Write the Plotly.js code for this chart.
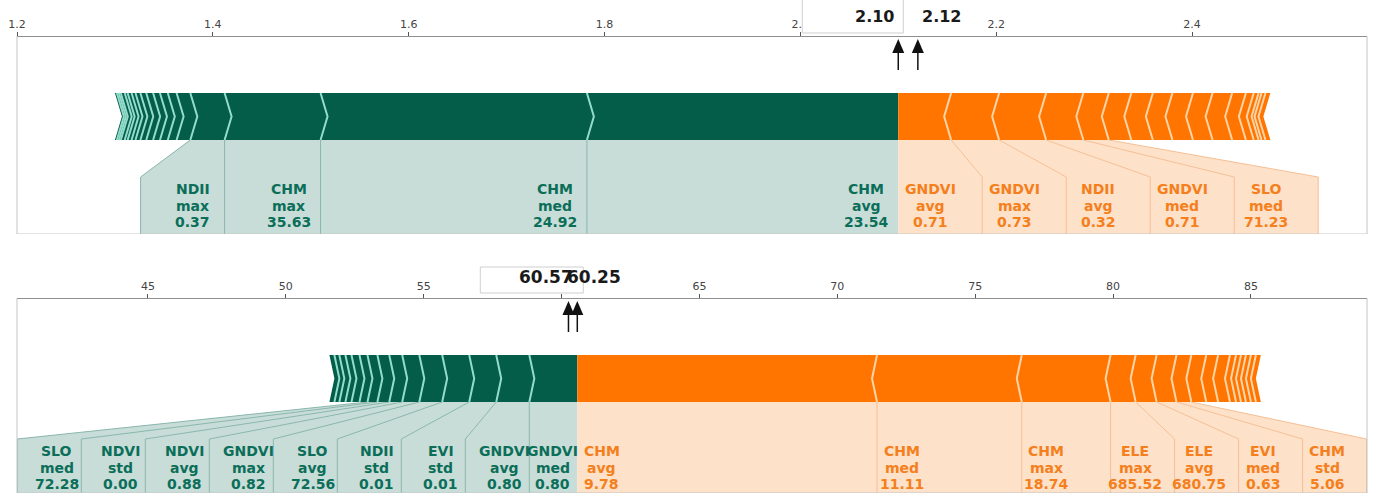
<!DOCTYPE html>
<html>
<head>
<meta charset="utf-8">
<script src="https://cdn.plot.ly/plotly-3.0.1.min.js"></script>
<style>
  html, body { margin: 0; padding: 0; background: #ffffff; }
  #chart { width: 1373px; height: 495px; }
</style>
</head>
<body>
<div id="chart"></div>
<script>
// ---------- upper panel ----------
const upperOutput = 2.10;
const upperReference = 2.12;
const upperTicks = [1.2, 1.4, 1.6, 1.8, 2.0, 2.2, 2.4];
const upperTickLabels = ['1.2', '1.4', '1.6', '1.8', '2.0', '2.2', '2.4'];
// features pushing the prediction up (green, left of the output)
const upperRaiseNames = ['CHM', 'CHM', 'CHM', 'NDII'];
const upperRaiseStats = ['avg', 'med', 'max', 'max'];
const upperRaiseValues = ['23.54', '24.92', '35.63', '0.37'];
const upperRaiseEffects = [0.318, 0.272, 0.098, 0.035, 0.014, 0.009, 0.008, 0.007, 0.007,
                           0.006, 0.005, 0.004, 0.004, 0.003, 0.004, 0.002, 0.002, 0.002];
// features pulling the prediction down (orange, right of the output)
const upperLowerNames = ['GNDVI', 'GNDVI', 'NDII', 'GNDVI', 'SLO'];
const upperLowerStats = ['avg', 'max', 'avg', 'med', 'med'];
const upperLowerValues = ['0.71', '0.73', '0.32', '0.71', '71.23'];
const upperLowerEffects = [0.054, 0.049, 0.048, 0.038, 0.026, 0.023, 0.022, 0.020, 0.021,
                           0.020, 0.020, 0.014, 0.008, 0.005, 0.003, 0.004, 0.005];

// ---------- lower panel ----------
const lowerOutput = 60.57;
const lowerReference = 60.25;
const lowerTicks = [45, 50, 55, 60, 65, 70, 75, 80, 85];
// the 60 label sits under the value box, so it is left blank
const lowerTickLabels = ['45', '50', '55', '', '65', '70', '75', '80', '85'];
const lowerRaiseNames = ['GNDVI', 'GNDVI', 'EVI', 'NDII', 'SLO', 'GNDVI', 'NDVI', 'NDVI', 'SLO'];
const lowerRaiseStats = ['med', 'avg', 'std', 'std', 'avg', 'max', 'avg', 'std', 'med'];
const lowerRaiseValues = ['0.80', '0.80', '0.01', '0.01', '72.56', '0.82', '0.88', '0.00', '72.28'];
const lowerRaiseEffects = [1.74, 1.20, 0.98, 0.98, 0.83, 0.62, 0.47, 0.43, 0.36,
                           0.29, 0.29, 0.22, 0.22, 0.18, 0.18];
const lowerLowerNames = ['CHM', 'CHM', 'CHM', 'ELE', 'ELE', 'EVI', 'CHM'];
const lowerLowerStats = ['avg', 'med', 'max', 'max', 'avg', 'med', 'std'];
const lowerLowerValues = ['9.78', '11.11', '18.74', '685.52', '680.75', '0.63', '5.06'];
const lowerLowerEffects = [10.87, 5.25, 3.22, 0.91, 0.76, 0.72, 0.54, 0.54, 0.43,
                           0.43, 0.22, 0.18, 0.18, 0.18, 0.18, 0.18];

// ---------- styling ----------
const FIG_W = 1373, FIG_H = 495;
const PLOT_LEFT = 17, PLOT_RIGHT = 1367;
const FONT = 'DejaVu Sans, Verdana, sans-serif';

const GREEN = { bar: '#035d49', sep: '#93dccb', fill: '#c9ddd8', div: '#88b6ab', text: '#0b6e59' };
const ORANGE = { bar: '#ff7500', sep: '#ffd4a6', fill: '#fde1c8', div: '#f6bf95', text: '#f47f1c' };

// vertical layout inside a panel, in pixels below the axis line
const BAR_TOP = 57, BAR_BOTTOM = 104, BAR_MID = (BAR_TOP + BAR_BOTTOM) / 2;
const LABEL_TOP = 141;
const TEXT_LINES = [153, 169.5, 185.5];
const ARROW_TIP = 3, ARROW_BASE = 17, ARROW_END = 34;

const panels = [
  {
    xa: 'x', ya: 'y', areaTop: 0, axisPx: 36, areaBottom: 234,
    range: [1.2, 2.5787], ticks: upperTicks, tickLabels: upperTickLabels,
    tipPx: 7, labelW: 84, textOffset: 32, valueSize: 16,
    output: upperOutput, reference: upperReference,
    raise: { names: upperRaiseNames, stats: upperRaiseStats, values: upperRaiseValues, effects: upperRaiseEffects },
    lower: { names: upperLowerNames, stats: upperLowerStats, values: upperLowerValues, effects: upperLowerEffects },
    box: { left: 96, right: 5, top: -40, bottom: -3 }, valueY: -20, refShift: 2
  },
  {
    xa: 'x2', ya: 'y2', areaTop: 250, axisPx: 298, areaBottom: 493,
    range: [40.25, 89.21], ticks: lowerTicks, tickLabels: lowerTickLabels,
    tipPx: 5, labelW: 64, textOffset: 24.5, valueSize: 17,
    output: lowerOutput, reference: lowerReference,
    raise: { names: lowerRaiseNames, stats: lowerRaiseStats, values: lowerRaiseValues, effects: lowerRaiseEffects },
    lower: { names: lowerLowerNames, stats: lowerLowerStats, values: lowerLowerValues, effects: lowerLowerEffects },
    box: { left: 97, right: 6, top: -31, bottom: -5 }, valueY: -21, refShift: -3
  }
];

const shapes = [];
const annotations = [];
const traces = [];
const layout = {
  width: FIG_W, height: FIG_H,
  margin: { l: 0, r: 0, t: 0, b: 0 },
  paper_bgcolor: '#ffffff', plot_bgcolor: '#ffffff',
  showlegend: false,
  shapes: shapes, annotations: annotations
};

function poly(pts) {
  return 'M' + pts.map(p => p[0] + ',' + p[1]).join('L') + 'Z';
}
function polyline(pts) {
  return 'M' + pts.map(p => p[0] + ',' + p[1]).join('L');
}

panels.forEach((p, k) => {
  const suffix = k === 0 ? '' : '2';
  const bottom = p.areaBottom - p.axisPx;
  const ppu = (PLOT_RIGHT - PLOT_LEFT) / (p.range[1] - p.range[0]);
  const tip = p.tipPx / ppu;

  layout['xaxis' + suffix] = {
    domain: [PLOT_LEFT / FIG_W, PLOT_RIGHT / FIG_W],
    range: p.range, side: 'top', anchor: 'free',
    position: 1 - p.axisPx / FIG_H,
    tickmode: 'array', tickvals: p.ticks, ticktext: p.tickLabels,
    ticks: 'outside', ticklen: 4, tickwidth: 1, tickcolor: '#555555',
    showline: true, linecolor: '#8f8f8f', linewidth: 1,
    showgrid: false, zeroline: false, fixedrange: true,
    tickfont: { family: FONT, size: 11, color: '#444444' }
  };
  layout['yaxis' + suffix] = {
    domain: [1 - p.areaBottom / FIG_H, 1 - p.areaTop / FIG_H],
    range: [bottom, -(p.axisPx - p.areaTop)],
    visible: false, fixedrange: true, anchor: p.xa
  };
  traces.push({
    x: [p.output], y: [BAR_MID], xaxis: p.xa, yaxis: p.ya,
    mode: 'markers', marker: { opacity: 0 }, hoverinfo: 'skip'
  });

  const base = { xref: p.xa, yref: p.ya, layer: 'above' };

  // one side of the force bar: d = -1 grows left of the output, +1 grows right
  function side(group, d, col) {
    const segs = [];
    let cum = 0;
    group.effects.forEach(e => {
      segs.push({ near: p.output + d * cum, far: p.output + d * (cum + e) });
      cum += e;
    });

    // label cells below the bar, pushed outward so every label gets room
    const cells = [];
    let near = segs[0].near;
    const minW = p.labelW / ppu;
    group.names.forEach((n, j) => {
      const own = d * (segs[j].far - near);
      // the label next to the output keeps its segment when it is nearly wide enough
      const width = (j === 0 && own >= 0.7 * minW) ? own : Math.max(own, minW);
      cells.push({ near: near, far: near + d * width });
      near = near + d * width;
    });

    // backing polygons joining each labelled segment to its cell
    cells.forEach((c, j) => {
      const s = segs[j];
      shapes.push(Object.assign({}, base, {
        type: 'path',
        path: poly([[s.near, BAR_BOTTOM], [s.far, BAR_BOTTOM], [c.far, LABEL_TOP],
                    [c.far, bottom], [c.near, bottom], [c.near, LABEL_TOP]]),
        fillcolor: col.fill, line: { width: 0 }
      }));
    });
    cells.forEach((c, j) => {
      const s = segs[j];
      shapes.push(Object.assign({}, base, {
        type: 'path',
        path: polyline([[s.far, BAR_BOTTOM], [c.far, LABEL_TOP], [c.far, bottom]]),
        line: { color: col.div, width: 1 }
      }));
    });

    // chevron segments
    segs.forEach((s, i) => {
      const nearTip = i === 0 ? 0 : tip;
      shapes.push(Object.assign({}, base, {
        type: 'path',
        path: poly([[s.near, BAR_TOP], [s.near - d * nearTip, BAR_MID], [s.near, BAR_BOTTOM],
                    [s.far, BAR_BOTTOM], [s.far - d * tip, BAR_MID], [s.far, BAR_TOP]]),
        fillcolor: col.bar, line: { width: 0 }
      }));
    });
    segs.forEach((s, i) => {
      if (i === 0) return;
      shapes.push(Object.assign({}, base, {
        type: 'path',
        path: polyline([[s.near, BAR_TOP], [s.near - d * tip, BAR_MID], [s.near, BAR_BOTTOM]]),
        line: { color: col.sep, width: 2 }
      }));
    });

    // three-line labels: feature, statistic, value
    cells.forEach((c, j) => {
      const lines = [group.names[j], group.stats[j], group.values[j]];
      lines.forEach((t, li) => {
        annotations.push({
          xref: p.xa, yref: p.ya,
          x: c.near + d * p.textOffset / ppu, y: TEXT_LINES[li],
          xanchor: 'center', yanchor: 'middle', showarrow: false,
          text: '<b>' + t + '</b>',
          font: { family: FONT, size: 14, color: col.text }
        });
      });
    });
  }

  side(p.raise, -1, GREEN);
  side(p.lower, +1, ORANGE);

  // frame (top edge is the axis line)
  [[[0, 0], [0, 1]], [[1, 0], [1, 1]], [[0, 1], [1, 1]]].forEach(([a, b]) => {
    shapes.push({
      type: 'line', xref: p.xa + ' domain', yref: p.ya,
      x0: a[0], x1: b[0], y0: a[1] * bottom, y1: b[1] * bottom,
      line: { color: '#c4c4c4', width: 1 }, layer: 'above'
    });
  });

  // arrows for the predicted and the reference value
  [p.output, p.reference].forEach(v => {
    shapes.push(Object.assign({}, base, {
      type: 'line', x0: v, x1: v, y0: ARROW_BASE, y1: ARROW_END,
      line: { color: '#111111', width: 1.5 }
    }));
    shapes.push(Object.assign({}, base, {
      type: 'path',
      path: poly([[v - 6 / ppu, ARROW_BASE], [v + 6 / ppu, ARROW_BASE], [v, ARROW_TIP]]),
      fillcolor: '#111111', line: { width: 0 }
    }));
  });

  // white label box for the predicted value
  shapes.push(Object.assign({}, base, {
    type: 'rect',
    x0: p.output - p.box.left / ppu, x1: p.output + p.box.right / ppu,
    y0: p.box.top, y1: p.box.bottom,
    fillcolor: '#ffffff', line: { color: '#cfcfcf', width: 1 }
  }));

  annotations.push({
    xref: p.xa, yref: p.ya, x: p.output, y: p.valueY,
    xanchor: 'right', yanchor: 'middle', xshift: -2, showarrow: false,
    text: '<b>' + p.output.toFixed(2) + '</b>',
    font: { family: FONT, size: p.valueSize, color: '#1a1a1a' }
  });
  annotations.push({
    xref: p.xa, yref: p.ya, x: p.reference, y: p.valueY,
    xanchor: 'left', yanchor: 'middle', xshift: p.refShift, showarrow: false,
    text: '<b>' + p.reference.toFixed(2) + '</b>',
    font: { family: FONT, size: p.valueSize, color: '#1a1a1a' }
  });
});

Plotly.newPlot('chart', traces, layout, { staticPlot: true, displayModeBar: false });
</script>
</body>
</html>
